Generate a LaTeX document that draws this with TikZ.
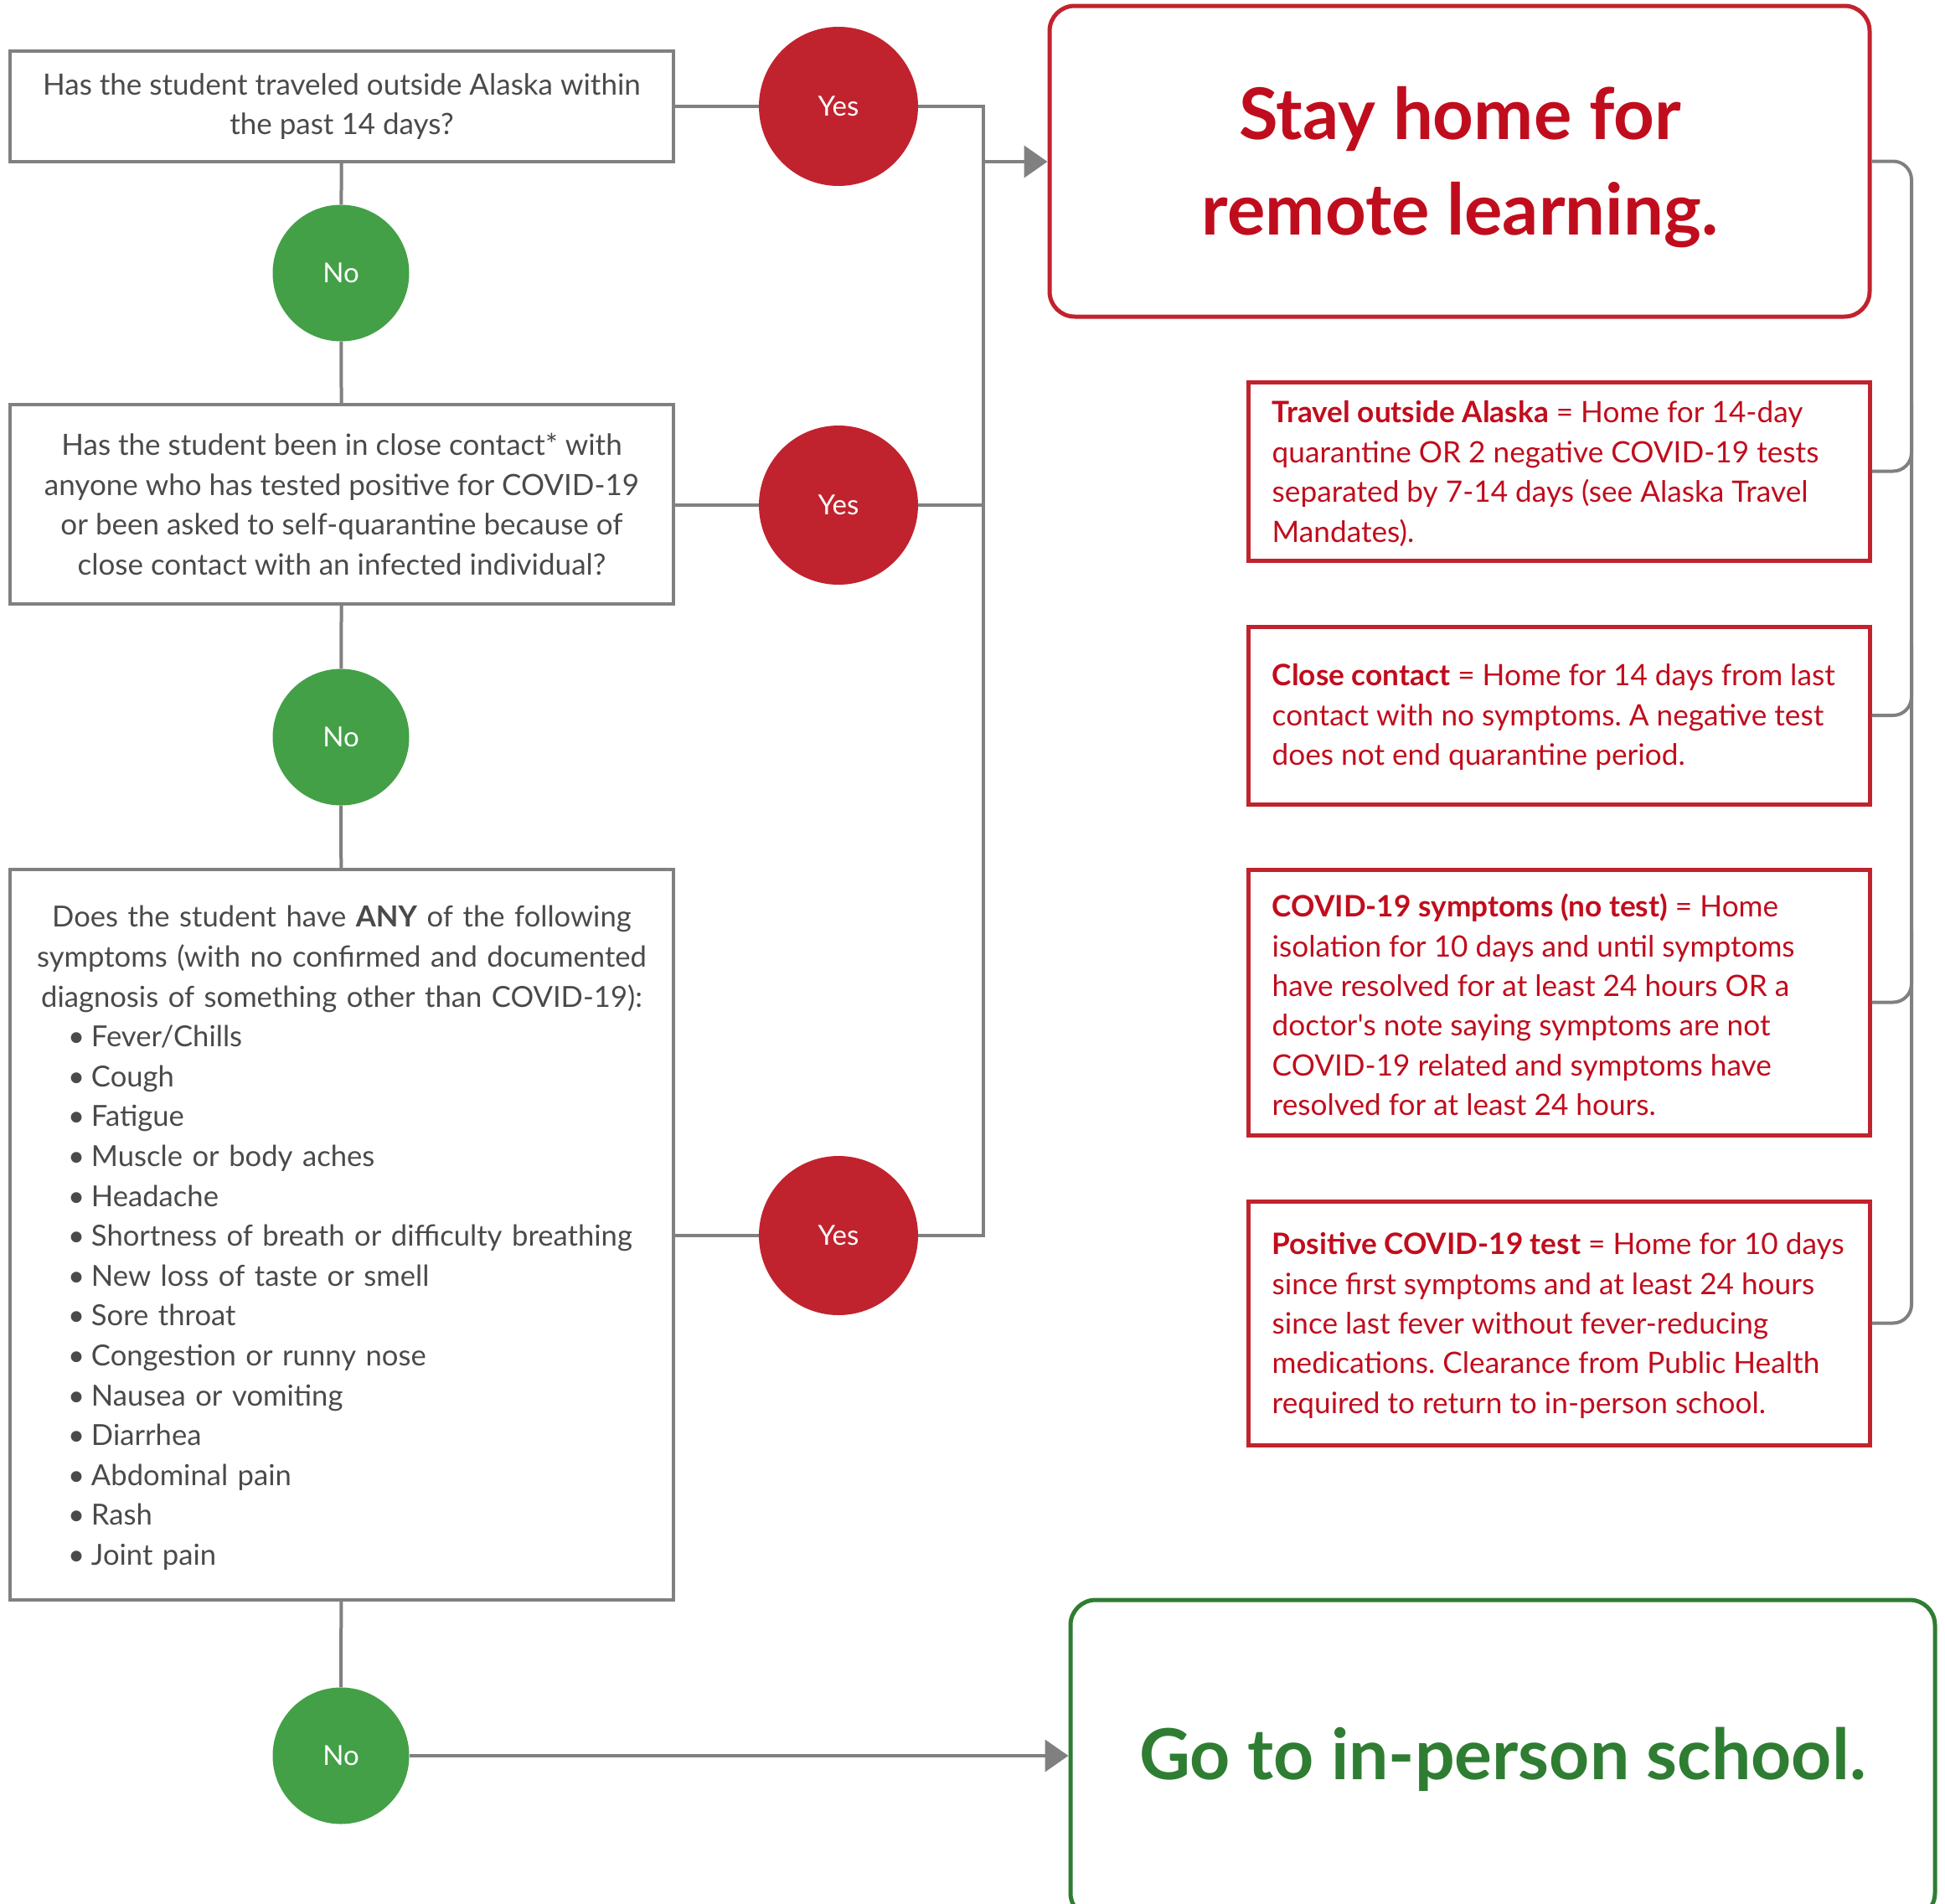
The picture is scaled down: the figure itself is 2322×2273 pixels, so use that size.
\documentclass[tikz,border=0pt]{standalone}
\usepackage{fontspec}
\setmainfont{Lato}
\newfontfamily\plainlato{Lato}
\usetikzlibrary{arrows.meta,calc}
\definecolor{cred}{HTML}{C1232E}
\definecolor{tred}{HTML}{C00D1D}
\definecolor{cgreen}{HTML}{43A047}
\definecolor{tgreen}{HTML}{2E7D32}
\definecolor{lgray}{HTML}{808080}
\definecolor{tgray}{HTML}{4A4A4A}
\frenchspacing
\tikzset{
  qbox/.style={draw=lgray,line width=4pt,rectangle,minimum width=792pt,inner sep=0pt,
    text=tgray,font=\frenchspacing\fontsize{35}{47.6}\selectfont},
  yesc/.style={circle,fill=cred,minimum size=190pt,inner sep=0pt,text=white,font=\fontsize{33}{40}\selectfont},
  noc/.style={circle,fill=cgreen,minimum size=163pt,inner sep=0pt,text=white,font=\fontsize{33}{40}\selectfont},
  rbox/.style={draw=cred,line width=5pt,rectangle,minimum width=742pt,inner sep=0pt},
  rtext/.style={anchor=west,inner sep=0pt,text=tred,align=left,font=\frenchspacing\fontsize{35.2}{47.4}\selectfont},
  conn/.style={draw=lgray,line width=4pt},
  arr/.style={conn,-{Triangle[length=28pt,width=38pt]}},
}
\newcommand{\bul}[1]{\hspace*{53pt}\makebox[28pt][l]{\textbullet}#1}
\begin{document}
\begin{tikzpicture}[x=1pt,y=-1pt]
\useasboundingbox (0,0) rectangle (2322,2273);
% question boxes
\node[qbox,minimum height=132pt,align=center] (b1) at (408,127)
  {Has the student traveled outside Alaska within\\the past 14 days?};
\node[qbox,minimum height=238pt,align=center] (b2) at (408,602)
  {Has the student been in close contact* with\\anyone who has tested positive for COVID-19\\or been asked to self-quarantine because of\\close contact with an infected individual?};
\node[qbox,minimum height=872pt] (b3) at (408,1474) {};
\node[text=tgray,text width=760pt,inner sep=0pt,font=\frenchspacing\fontsize{34.6}{47.6}\selectfont] (b3t) at (408,1478)
  {{\centering Does the student have \textbf{ANY} of the following\\symptoms (with no confirmed and documented\\diagnosis of something other than COVID-19):\par}
  \raggedright
  \bul{Fever/Chills}\\
  \bul{Cough}\\
  \bul{Fatigue}\\
  \bul{Muscle or body aches}\\
  \bul{Headache}\\
  \bul{Shortness of breath or difficulty breathing}\\
  \bul{New loss of taste or smell}\\
  \bul{Sore throat}\\
  \bul{Congestion or runny nose}\\
  \bul{Nausea or vomiting}\\
  \bul{Diarrhea}\\
  \bul{Abdominal pain}\\
  \bul{Rash}\\
  \bul{Joint pain}\par};
% circles
\node[noc] (n1) at (407,326) {No};
\node[noc] (n2) at (407,880) {No};
\node[noc] (n3) at (407,2096) {No};
\node[yesc] (y1) at (1001,127) {Yes};
\node[yesc] (y2) at (1001,603) {Yes};
\node[yesc] (y3) at (1001,1475) {Yes};
% outcome boxes
\node[draw=cred,line width=5pt,rounded corners=30pt,minimum width=979pt,minimum height=371pt] (stay) at (1742.5,192.5) {};
\node[text=tred,align=center,inner sep=0pt,font=\bfseries\fontsize{85}{114}\selectfont] (stayt) at (1743,200)
  {Stay home for\\remote learning.};
\node[draw=tgreen,line width=5pt,rounded corners=30pt,minimum width=1032pt,minimum height=380pt,
  text=tgreen,font=\bfseries\fontsize{84}{114}\selectfont] (go) at (1794,2100)
  {Go to in-person school.};
% red info boxes
\node[rbox,minimum height=213pt] (tr) at (1861,562.5) {};
\node[rbox,minimum height=212pt] (cc) at (1861,854) {};
\node[rbox,minimum height=317pt] (sy) at (1861,1196.5) {};
\node[rbox,minimum height=291pt] (po) at (1861,1579.5) {};
\node[rtext] (trt) at ($(tr.west)+(31,3)$)
  {\textbf{Travel outside Alaska} = Home for 14-day\\quarantine OR 2 negative COVID-19 tests\\separated by 7-14 days (see Alaska Travel\\Mandates).};
\node[rtext] (cct) at ($(cc.west)+(31,2)$)
  {\textbf{Close contact} = Home for 14 days from last\\contact with no symptoms. A negative test\\does not end quarantine period.};
\node[rtext] (syt) at ($(sy.west)+(31,3)$)
  {\textbf{COVID-19 symptoms (no test)} = Home\\isolation for 10 days and until symptoms\\have resolved for at least 24 hours OR a\\doctor{\plainlato '}s note saying symptoms are not\\COVID-19 related and symptoms have\\resolved for at least 24 hours.};
\node[rtext] (pot) at ($(po.west)+(31,3)$)
  {\textbf{Positive COVID-19 test} = Home for 10 days\\since first symptoms and at least 24 hours\\since last fever without fever-reducing\\medications. Clearance from Public Health\\required to return to in-person school.};
% connectors left column
\draw[conn] (b1) -- (n1) -- (b2) -- (n2) -- (b3) -- (n3);
\coordinate (jt) at (1174,127);
\coordinate (jm) at (1174,603);
\coordinate (jb) at (1174,1475);
\coordinate (ja) at (1174,193);
\draw[conn] (b1.east) -- (y1.west);
\draw[conn] (b2.east |- y2) -- (y2.west);
\draw[conn] (b3.east |- y3) -- (y3.west);
\draw[conn] (y1.east) -- (jt) -- (jb) -- (y3.east);
\draw[conn] (y2.east) -- (jm);
\draw[arr] (ja) -- (ja -| stay.west);
\draw[arr] (n3.east) -- (n3.east -| go.west);
% right bracket
\coordinate (rb) at (2282,1300);
\draw[conn,rounded corners=22pt] (stay.east) -| (rb) |- (po.east);
\draw[conn,rounded corners=22pt] (tr.east) -| (2282,480);
\draw[conn,rounded corners=22pt] (cc.east) -| (2282,770);
\draw[conn,rounded corners=22pt] (sy.east) -| (2282,1110);
\end{tikzpicture}
\end{document}
